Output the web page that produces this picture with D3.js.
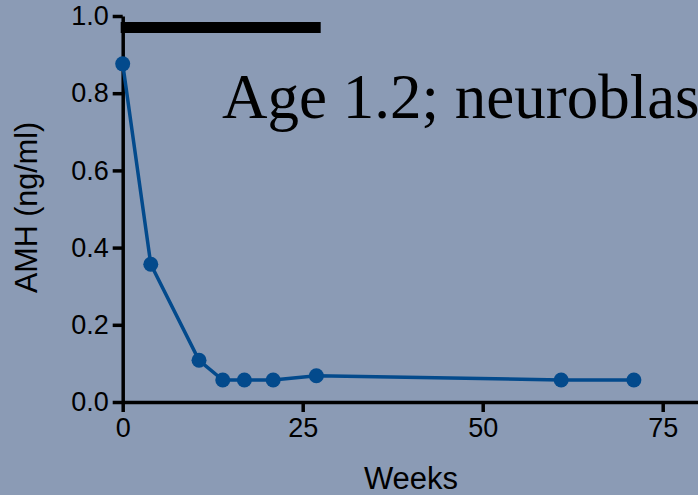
<!DOCTYPE html>
<html>
<head>
<meta charset="utf-8">
<script src="https://cdn.jsdelivr.net/npm/d3@7"></script>
<style>
  html, body { margin: 0; padding: 0; background: #8b9bb5; overflow: hidden; }
  svg { display: block; }
  text { font-family: "Liberation Sans", Arial, sans-serif; fill: #000; }
</style>
</head>
<body>
<svg id="chart" width="698" height="495"></svg>
<script>
// AMH over time, one patient
const weeks = [0, 3.9, 10.6, 13.9, 16.9, 20.9, 26.9, 60.9, 71.0];
const amh = [0.876, 0.357, 0.108, 0.057, 0.057, 0.057, 0.068, 0.057, 0.057];
const xTicks = [0, 25, 50, 75];
const yTicks = [0, 0.2, 0.4, 0.6, 0.8, 1.0];
// treatment period bar (weeks) and its height on the AMH scale
const treatment = [0, 27.5];
const treatmentLevel = 0.97;
const title = "Age 1.2; neuroblastoma";

const svg = d3.select("#chart");

const x = d3.scaleLinear().domain([0, 80]).range([122.7, 698.7]);
const y = d3.scaleLinear().domain([0, 1]).range([402, 16]);

const points = weeks.map((w, i) => ({w, v: amh[i]}));

// axes
svg.append("g")
    .attr("transform", `translate(0,${y(0)})`)
    .call(d3.axisBottom(x).tickValues(xTicks).tickFormat(d3.format("d"))
        .tickSize(10).tickSizeOuter(0).tickPadding(6));

svg.append("g")
    .attr("transform", `translate(${x(0)},0)`)
    .call(d3.axisLeft(y).tickValues(yTicks).tickFormat(d3.format(".1f"))
        .tickSize(10).tickSizeOuter(0).tickPadding(4));

svg.selectAll(".domain, .tick line")
    .attr("stroke", "#000")
    .attr("stroke-width", 3.5);

svg.selectAll(".tick text")
    .style("font-size", "27px")
    .attr("fill", "#000");

// treatment bar
svg.append("line")
    .attr("x1", x(treatment[0]) - 2)
    .attr("x2", x(treatment[1]))
    .attr("y1", y(treatmentLevel))
    .attr("y2", y(treatmentLevel))
    .attr("stroke", "#000")
    .attr("stroke-width", 11);

// series
const line = d3.line().x(d => x(d.w)).y(d => y(d.v));
svg.append("path")
    .datum(points)
    .attr("d", line)
    .attr("fill", "none")
    .attr("stroke", "#034a8c")
    .attr("stroke-width", 3.5);

svg.selectAll("circle.pt")
    .data(points)
    .enter().append("circle")
    .attr("class", "pt")
    .attr("cx", d => x(d.w))
    .attr("cy", d => y(d.v))
    .attr("r", 7.5)
    .attr("fill", "#034a8c");

// labels
svg.append("text")
    .attr("transform", "translate(37,207.5) rotate(-90)")
    .attr("text-anchor", "middle")
    .style("font-size", "30.5px")
    .text("AMH (ng/ml)");

svg.append("text")
    .attr("x", 411)
    .attr("y", 489)
    .attr("text-anchor", "middle")
    .style("font-size", "31px")
    .text("Weeks");

svg.append("text")
    .attr("x", 222)
    .attr("y", 118)
    .style("font-family", "'Liberation Serif', 'Times New Roman', serif")
    .style("font-size", "63px")
    .text(title);
</script>
</body>
</html>
